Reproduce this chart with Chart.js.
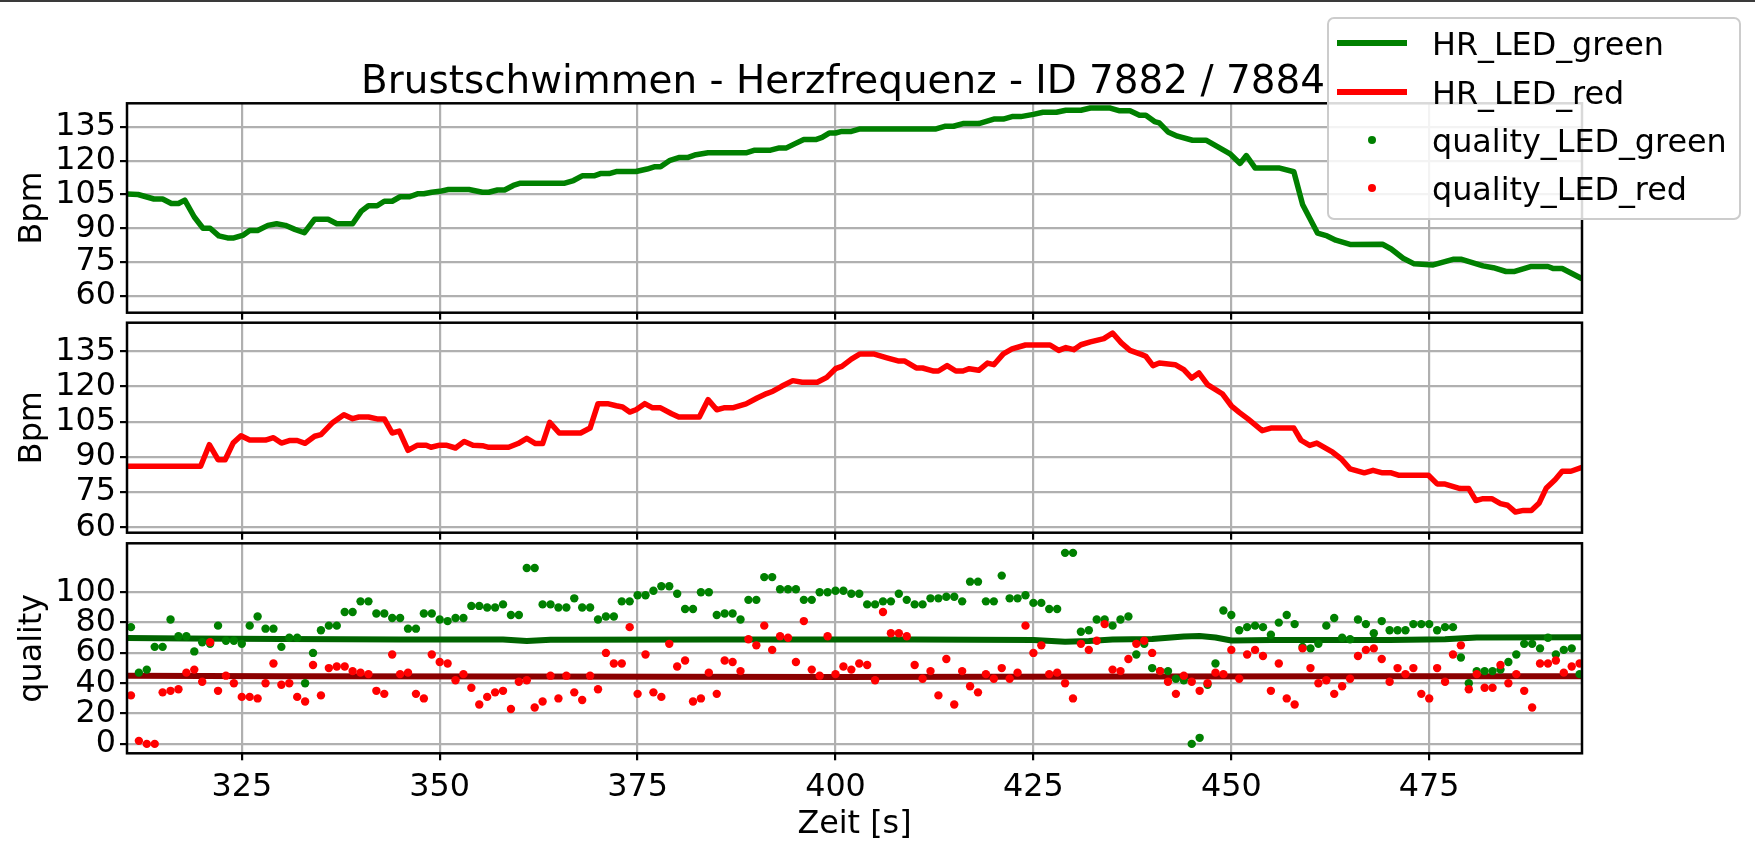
<!DOCTYPE html>
<html>
<head>
<meta charset="utf-8">
<script src="https://cdn.jsdelivr.net/npm/chart.js"></script>
<style>
	html, body { margin: 0; padding: 0; background: #fff; }
	body { width: 1755px; height: 846px; position: relative; overflow: hidden; font-family: "DejaVu Sans", sans-serif; }
	canvas { position: absolute; left: 0; top: 0; }
	#topline { position: absolute; left: 0; top: 0; width: 1755px; height: 2px; background: #3a3a3a; }
	#title { position: absolute; top: 57px; left: 843px; transform: translateX(-50%); font-size: 38.9px; line-height: 45px; white-space: nowrap; color: #000; }
	#legend { position: absolute; left: 1327px; top: 17px; width: 410px; height: 199px; border: 2px solid #cccccc; border-radius: 7px; background: rgba(255, 255, 255, 0.85); z-index: 5; }
	.row { position: absolute; left: 1337px; height: 48px; display: flex; align-items: center; font-size: 31.8px; z-index: 6; white-space: nowrap; }
	.handle { width: 70px; margin-right: 25px; display: flex; align-items: center; justify-content: center; }
	.handle .ln { width: 70px; height: 5.5px; }
	.handle .dot { width: 8.5px; height: 8.5px; border-radius: 50%; }
</style>
</head>
<body>
<div id="topline"></div>
<canvas id="hrGreen" width="1755" height="846"></canvas>
<canvas id="hrRed" width="1755" height="846"></canvas>
<canvas id="quality" width="1755" height="846"></canvas>
<div id="title">Brustschwimmen - Herzfrequenz - ID 7882 / 7884</div>
<div id="legend"></div>
<div class="row" style="top:19px"><div class="handle"><div class="ln" style="background:#008000"></div></div>HR_LED_green</div>
<div class="row" style="top:68px"><div class="handle"><div class="ln" style="background:#ff0000"></div></div>HR_LED_red</div>
<div class="row" style="top:116px"><div class="handle"><div class="dot" style="background:#008000"></div></div>quality_LED_green</div>
<div class="row" style="top:164px"><div class="handle"><div class="dot" style="background:#ff0000"></div></div>quality_LED_red</div>

<script>
// achsen
const xTicks = [325, 350, 375, 400, 425, 450, 475];
const bpmTicks = [60, 75, 90, 105, 120, 135];
const qualityTicks = [0, 20, 40, 60, 80, 100];

// HR_LED_green (zeit, bpm)
const hrGreenTime = [310.5, 311.9, 313.9, 315, 316.1, 317, 317.8, 319, 320.1, 321, 322.1, 323.2, 324, 325.2, 326, 327, 328.3, 329.4, 330.5, 331.7, 332.9, 334.2, 335.9, 337, 339, 340.1, 341, 342.1, 343, 344, 345, 346.2, 347.2, 348, 349, 350, 351.1, 353.7, 355.4, 356.2, 357.3, 358.2, 359.3, 360.2, 365.8, 366.9, 368, 369.5, 370.3, 371.4, 372.3, 374.8, 376.2, 377.1, 377.9, 379.1, 380.2, 381.3, 382.2, 383.9, 388.7, 389.8, 391.8, 392.9, 393.8, 394.9, 396, 397.5, 398.3, 399.2, 400, 400.8, 402, 403.1, 412.7, 413.8, 414.9, 416.1, 418.1, 420, 421.2, 422.3, 423.4, 425, 426.2, 427.9, 429.1, 431, 432.2, 434.7, 435.8, 437.2, 438.4, 439.2, 440.3, 440.9, 442, 443.2, 445.1, 446.8, 448.3, 449.9, 451.1, 451.9, 453, 456, 457.9, 459, 460.9, 462.1, 463.2, 465, 469.1, 470.2, 471.7, 473.1, 475.5, 478, 479.1, 481.8, 483.1, 484.7, 485.8, 487.8, 490, 490.7, 491.8, 494.3];
const hrGreenBpm = [105.2, 105, 103, 103, 101, 101, 102.5, 95, 90, 90, 86.6, 85.7, 85.7, 87, 89, 89, 91.3, 92, 91.3, 89.5, 88, 94, 94, 92, 92, 97.6, 100, 100, 102, 102, 104, 104, 105.3, 105.3, 106, 106.4, 107.2, 107.2, 106, 106, 107, 107, 109, 110, 110, 111.2, 113.3, 113.3, 114.3, 114.3, 115.2, 115.2, 116.3, 117.3, 117.3, 120.2, 121.4, 121.4, 122.5, 123.5, 123.5, 124.7, 124.7, 125.7, 125.7, 127.6, 129.4, 129.4, 130.4, 132.3, 132.3, 133, 133, 134.1, 134.1, 135.3, 135.3, 136.5, 136.5, 138.5, 138.5, 139.6, 139.6, 140.6, 141.5, 141.5, 142.4, 142.4, 143.4, 143.4, 142.2, 142.2, 140.2, 140.2, 137.4, 136.8, 132.8, 130.9, 129.1, 129.1, 126.1, 122.9, 118.8, 122.3, 116.8, 116.8, 115.1, 100.6, 87.8, 86.6, 84.7, 82.8, 82.9, 80.8, 76.7, 74.2, 73.7, 76.2, 76.2, 73.3, 72.5, 70.8, 70.8, 73, 73, 72.1, 72.1, 67.6];

// HR_LED_red (zeit, bpm)
const hrRedTime = [310.5, 319.8, 320.9, 322, 322.9, 323.9, 324.9, 326, 328, 329, 330, 331.1, 332, 333, 334.2, 335, 336.5, 337.9, 339, 339.8, 341, 342.1, 343, 344, 344.9, 346, 347.2, 348.3, 348.9, 350, 350.8, 352, 353.1, 354.2, 355.4, 356.2, 358.7, 359.9, 361, 362.1, 363, 363.9, 365.1, 367.8, 369, 370, 371.2, 372.3, 373.1, 374, 374.8, 375.9, 376.9, 377.9, 379.3, 380.2, 382.8, 383.9, 385, 385.9, 387, 388.7, 390.1, 391.3, 392.1, 393.2, 394.6, 395.8, 397.7, 398.9, 400, 400.8, 402, 403.1, 404.8, 406.5, 407.9, 408.7, 410.2, 411, 412.4, 413, 414.1, 415.2, 416.1, 416.9, 418.1, 419.2, 420, 421.2, 422.3, 424, 427.1, 428.2, 429.1, 430.1, 431, 432.2, 433.9, 435, 436.1, 437.2, 438.7, 439.2, 440.1, 440.9, 442.9, 444, 445, 445.9, 447, 448.9, 450, 451, 452.1, 453.9, 455, 457.9, 458.8, 459.9, 460.8, 462.8, 463.9, 465, 466.8, 467.9, 469.1, 470.2, 471.1, 474.9, 476, 476.9, 478.9, 480, 480.9, 481.8, 482.9, 484, 484.9, 485.9, 486.9, 487.9, 488.9, 489.8, 490.9, 491.8, 492.9, 494.3];
const hrRedBpm = [86, 86, 95.2, 88.8, 88.8, 95.9, 99, 97.2, 97.2, 98.2, 95.9, 97, 97, 95.8, 98.8, 99.5, 104.7, 108, 106.3, 107, 107, 106.2, 106.2, 100.2, 101, 92.8, 95, 95, 94.1, 95, 95, 93.8, 96.6, 95, 94.8, 94.1, 94.1, 95.7, 97.9, 95.7, 95.7, 104.7, 100.2, 100.2, 102.3, 112.7, 112.7, 111.8, 111.3, 109.1, 110.1, 112.7, 110.9, 110.9, 108.4, 107, 107, 114.4, 110.1, 110.9, 110.9, 112.6, 115.1, 117, 118, 120.1, 122.5, 121.8, 121.8, 123.9, 127.6, 128.6, 131.7, 133.9, 133.9, 132.2, 130.9, 130.9, 127.9, 127.9, 126.6, 126.6, 128.9, 126.6, 126.6, 127.6, 126.9, 130, 129.3, 133.9, 136, 137.7, 137.7, 135.4, 136.6, 135.7, 137.8, 139, 140.4, 142.8, 138.6, 135.4, 133.6, 132.9, 128.9, 130, 129.3, 127.2, 123.6, 125.8, 120.8, 116.8, 111.8, 109, 106.2, 101.2, 102.3, 102.3, 97.1, 94.9, 95.9, 92, 89.1, 84.9, 83.2, 84.3, 83.2, 83.2, 82.2, 82.2, 78.5, 78.5, 76.5, 76.5, 71.4, 72.2, 72.2, 70.1, 69.4, 66.5, 67.2, 67.2, 70.4, 76.8, 80.3, 83.9, 83.9, 85.6];

// quality, ein wert pro sekunde ab 311 s
const qualityStart = 311;
const qualityGreen = [
	77, 47, 49, 64, 64, 82, 71, 71, 61, 67,
	66, 78, 68, 68, 66, 78, 84, 76, 76, 64,
	70, 70, 40, 60, 75, 78, 78, 87, 87, 94,
	94, 86, 86, 83, 83, 76, 76, 86, 86, 82,
	81, 83, 83, 91, 91, 90, 90, 92, 85, 85,
	116, 116, 92, 92, 90, 90, 96, 90, 90, 82,
	84, 84, 94, 94, 98, 98, 101, 104, 104, 99,
	89, 89, 100, 100, 85, 86, 86, 82, 95, 95,
	110, 110, 102, 102, 102, 95, 95, 100, 100, 101,
	101, 99, 99, 92, 92, 94, 94, 99, 95, 92,
	92, 96, 96, 97, 97, 94, 107, 107, 94, 94,
	111, 96, 96, 98, 93, 93, 89, 89, 126, 126,
	74, 75, 82, 82, 78, 82, 84, 59, 66, 50,
	48, 48, 43, 42, 0, 4, 39, 53, 88, 85,
	75, 77, 78, 77, 72, 80, 85, 79, 64, 63,
	66, 78, 83, 70, 69, 82, 79, 73, 81, 75,
	75, 75, 79, 79, 79, 75, 77, 77, 57, 40,
	48, 48, 48, 49, 54, 59, 66, 66, 63, 70,
	59, 62, 63, 46,
];
const qualityRed = [
	32, 2, 0, 0, 34, 35, 36, 47, 49, 41,
	67, 35, 45, 40, 31, 31, 30, 40, 53, 39,
	40, 31, 28, 52, 32, 50, 51, 51, 48, 47,
	46, 35, 33, 59, 46, 47, 33, 30, 59, 54,
	53, 42, 46, 37, 26, 31, 34, 35, 23, 41,
	42, 24, 28, 45, 30, 45, 34, 29, 45, 36,
	60, 53, 53, 77, 33, 59, 34, 31, 66, 51,
	55, 28, 30, 47, 33, 55, 54, 48, 69, 65,
	78, 62, 71, 70, 54, 81, 49, 45, 71, 46,
	51, 49, 53, 52, 42, 87, 73, 73, 71, 52,
	43, 48, 32, 56, 26, 48, 38, 34, 46, 43,
	50, 43, 47, 78, 60, 65, 46, 47, 40, 30,
	66, 62, 68, 79, 49, 48, 56, 66, 68, 60,
	48, 41, 33, 45, 41, 35, 40, 47, 46, 62,
	43, 59, 62, 58, 35, 53, 30, 26, 63, 50,
	40, 42, 33, 38, 43, 58, 62, 63, 56, 41,
	50, 46, 50, 33, 30, 50, 41, 59, 65, 36,
	46, 37, 37, 52, 40, 46, 35, 24, 53, 53,
	55, 47, 51, 53,
];

// mittelwert-linien im quality plot
const meanGreenTime = [310.5, 318, 330, 345, 358, 361, 364, 385, 410, 425, 429, 432, 435, 440, 444, 446, 448, 450, 455, 470, 477, 481, 494.3];
const meanGreen = [69.8, 69.5, 69.2, 68.9, 68.9, 67.9, 68.7, 68.8, 68.8, 68.6, 67.3, 67.8, 68.8, 69.2, 70.8, 71.2, 70.2, 68.2, 68.6, 68.6, 69, 70.2, 70.4];
const meanRedTime = [310.5, 330, 360, 400, 440, 470, 494.3];
const meanRed = [44.9, 44.6, 44.5, 44.2, 44.4, 44.6, 44.6];

Chart.defaults.font.family = "'DejaVu Sans', sans-serif";
Chart.defaults.font.size = 31.8;
Chart.defaults.color = "#000";

const toPoints = (xs, ys) => ys.map((y, i) => ({ x: xs[i], y: y }));
const qualityPoints = (ys) => ys.map((y, i) => ({ x: qualityStart + i, y: y }));

// rahmen um jeden plot (spines)
const framePlugin = {
	id: "frame",
	afterDatasetsDraw(chart) {
		const { ctx, chartArea: a } = chart;
		ctx.save();
		ctx.strokeStyle = "#000";
		ctx.lineWidth = 2.5;
		ctx.strokeRect(a.left, a.top, a.right - a.left, a.bottom - a.top);
		ctx.restore();
	},
};

function lineSet(data, color, width, order) {
	return {
		data: data,
		showLine: true,
		borderColor: color,
		borderWidth: width,
		borderJoinStyle: "round",
		pointRadius: 0,
		pointHoverRadius: 0,
		order: order,
	};
}

function dotSet(data, color, order) {
	return {
		data: data,
		showLine: false,
		backgroundColor: color,
		borderWidth: 0,
		pointRadius: 4.2,
		pointHoverRadius: 4.2,
		order: order,
	};
}

function makePanel(id, top, bottom, yMin, yMax, yTicks, yTitle, datasets, withXLabels) {
	const xHeight = withXLabels ? 92.7 : 7;
	return new Chart(document.getElementById(id), {
		type: "scatter",
		data: { datasets: datasets },
		options: {
			responsive: false,
			animation: false,
			devicePixelRatio: 1,
			layout: {
				padding: { left: 0, right: 1755 - 1582, top: top, bottom: 846 - bottom - xHeight },
			},
			plugins: {
				legend: { display: false },
				tooltip: { enabled: false },
			},
			scales: {
				x: {
					type: "linear",
					min: 310.5,
					max: 494.3,
					afterBuildTicks: (s) => {
						s.ticks = xTicks.map((v) => ({ value: v }));
					},
					afterFit: (s) => {
						s.height = xHeight;
					},
					ticks: {
						display: withXLabels,
						padding: 8,
						maxRotation: 0,
						autoSkip: false,
					},
					grid: { color: "#b0b0b0", lineWidth: 2.2, tickLength: 7, tickColor: "#000", tickWidth: 2.2 },
					border: { display: false },
					title: {
						display: withXLabels,
						text: "Zeit [s]",
						padding: { top: 0, bottom: 2 },
					},
				},
				y: {
					type: "linear",
					min: yMin,
					max: yMax,
					afterBuildTicks: (s) => {
						s.ticks = yTicks.map((v) => ({ value: v }));
					},
					afterFit: (s) => {
						s.width = 127;
					},
					ticks: { padding: 4 },
					grid: { color: "#b0b0b0", lineWidth: 2.2, tickLength: 7, tickColor: "#000", tickWidth: 2.2 },
					border: { display: false },
					title: {
						display: true,
						text: yTitle,
						padding: { top: 14, bottom: 0 },
					},
				},
			},
		},
		plugins: [framePlugin],
	});
}

//chart HR green
let hrGreenChart = makePanel("hrGreen", 103.3, 312.7, 52.5, 145.5, bpmTicks, "Bpm", [
	lineSet(toPoints(hrGreenTime, hrGreenBpm), "#008000", 5.5, 0),
], false);

//chart HR red
let hrRedChart = makePanel("hrRed", 322.7, 532.7, 57.7, 147.2, bpmTicks, "Bpm", [
	lineSet(toPoints(hrRedTime, hrRedBpm), "#ff0000", 5.5, 0),
], false);

//chart quality
let qualityChart = makePanel("quality", 543.3, 753.3, -6.2, 132.3, qualityTicks, "quality", [
	dotSet(qualityPoints(qualityRed), "#ff0000", 0),
	dotSet(qualityPoints(qualityGreen), "#008000", 1),
	lineSet(toPoints(meanGreenTime, meanGreen), "#006400", 6, 2),
	lineSet(toPoints(meanRedTime, meanRed), "#8b0000", 6, 3),
], true);
</script>
</body>
</html>
